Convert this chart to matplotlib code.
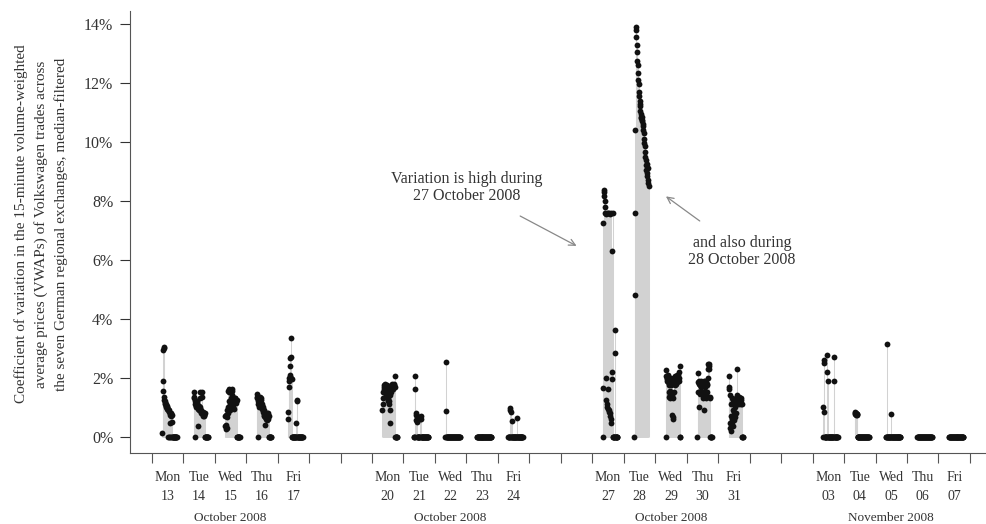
#   Coefficient of variation of the 15-minute VWAPs of Volkswagen across the
#   seven German regional exchanges, 13 October - 07 November 2008.
import numpy as np
import matplotlib
matplotlib.use("Agg")
import matplotlib.pyplot as plt

plt.rcParams['font.family'] = ['Liberation Serif', 'DejaVu Serif']

#   Trading days: offset in calendar days from Mon 13 October 2008.
day_offset = [0, 1, 2, 3, 4, 7, 8, 9, 10, 11, 14, 15, 16, 17, 18, 21, 22, 23, 24, 25]
day_names = ["Mon", "Tue", "Wed", "Thu", "Fri"] * 4
day_numbers = ["13", "14", "15", "16", "17", "20", "21", "22", "23", "24",
               "27", "28", "29", "30", "31", "03", "04", "05", "06", "07"]
month_labels = ["October 2008", "October 2008", "October 2008", "November 2008"]

#   15-minute slots from 08:00 to 19:00 (hours of the day).
slot_hours = [8.00, 8.25, 8.50, 8.75, 9.00, 9.25, 9.50, 9.75, 10.00, 10.25,
              10.50, 10.75, 11.00, 11.25, 11.50, 11.75, 12.00, 12.25, 12.50,
              12.75, 13.00, 13.25, 13.50, 13.75, 14.00, 14.25, 14.50, 14.75,
              15.00, 15.25, 15.50, 15.75, 16.00, 16.25, 16.50, 16.75, 17.00,
              17.25, 17.50, 17.75, 18.00, 18.25, 18.50, 18.75, 19.00]

#   Coefficient of variation (%) per slot, one list per trading day.
oct13 = [0.12, 2.95, 1.90, 1.55, 1.35, 1.25, 3.00, 3.05, 1.20, 1.15, 1.10, 1.05, 1.10, 1.00, 1.05,
         0.95, 1.00, 0.90, 0.00, 0.95, 0.85, 0.00, 0.90, 0.00, 0.75, 0.45, 0.00, 0.80, 0.70, 0.50,
         0.75, 0.00, 0.00, 0.00, 0.00, 0.00, 0.00, 0.00, 0.00, 0.00, 0.00, 0.00, 0.00, 0.00, 0.00]
oct14 = [1.50, 1.35, 1.30, 1.20, 0.00, 1.10, 1.05, 1.00, 1.20, 1.15, 1.00, 1.20, 0.95, 1.00, 0.35,
         1.05, 0.90, 0.95, 1.30, 1.50, 1.00, 0.85, 0.90, 0.80, 1.50, 1.35, 0.80, 0.75, 0.85, 0.70,
         0.75, 0.80, 0.75, 0.70, 0.80, 0.00, 0.00, 0.00, 0.00, 0.00, 0.00, 0.00, 0.00, 0.00, 0.00]
oct15 = [0.70, 0.35, 0.25, 0.75, 0.40, 0.65, 0.90, 0.30, 0.80, 1.00, 1.55, 1.60, 1.50, 1.20, 1.00,
         0.90, 1.10, 1.30, 1.20, 1.05, 1.60, 1.55, 1.40, 1.25, 1.10, 1.00, 0.95, 1.15, 1.20, 1.30,
         1.25, 1.30, 1.20, 1.15, 1.20, 1.25, 0.00, 0.00, 0.00, 0.00, 0.00, 0.00, 0.00, 0.00, 0.00]
oct16 = [1.45, 1.35, 1.30, 1.20, 1.10, 0.00, 1.00, 1.15, 1.25, 1.20, 1.30, 1.35, 1.25, 1.30, 1.15,
         1.05, 1.10, 0.95, 0.90, 1.00, 0.85, 0.90, 0.75, 0.80, 0.70, 0.65, 0.75, 0.40, 0.60, 0.70,
         0.65, 0.55, 0.80, 0.70, 0.60, 0.75, 0.80, 0.70, 0.00, 0.00, 0.00, 0.00, 0.00, 0.00, 0.00]
oct17 = [0.85, 0.60, 1.70, 1.90, 2.00, 2.10, 2.40, 2.65, 3.35, 2.70, 2.00, 1.95, 0.00, 0.00, 0.00,
         0.00, 0.00, 0.00, 0.00, 0.00, 0.00, 0.00, 0.00, 0.00, 0.00, 0.45, 1.25, 1.20, 0.00, 0.00,
         0.00, 0.00, 0.00, 0.00, 0.00, 0.00, 0.00, 0.00, 0.00, 0.00, 0.00, 0.00, 0.00, 0.00, 0.00]
oct20 = [0.90, 1.10, 1.30, 1.50, 1.60, 1.75, 1.70, 1.80, 1.60, 1.50, 1.55, 1.40, 1.60, 1.75, 1.50,
         1.35, 1.25, 1.20, 1.30, 1.40, 1.20, 1.10, 0.90, 0.45, 1.40, 1.50, 1.60, 1.70, 1.75, 1.70,
         1.80, 1.60, 1.70, 1.75, 1.80, 1.70, 1.75, 1.70, 2.05, 0.00, 0.00, 0.00, 0.00, 0.00, 0.00]
oct21 = [0.00, 0.00, 0.00, 2.07, 1.60, 0.80, 0.75, 0.55, 0.70, 0.50, 0.00, 0.00, 0.00, 0.00, 0.00,
         0.00, 0.00, 0.00, 0.65, 0.60, 0.70, 0.60, 0.00, 0.00, 0.00, 0.00, 0.00, 0.00, 0.00, 0.00,
         0.00, 0.00, 0.00, 0.00, 0.00, 0.00, 0.00, 0.00, 0.00, 0.00, 0.00, 0.00, 0.00, 0.00, 0.00]
oct22 = [0.00, 0.00, 2.52, 0.86, 0.00, 0.00, 0.00, 0.00, 0.00, 0.00, 0.00, 0.00, 0.00, 0.00, 0.00,
         0.00, 0.00, 0.00, 0.00, 0.00, 0.00, 0.00, 0.00, 0.00, 0.00, 0.00, 0.00, 0.00, 0.00, 0.00,
         0.00, 0.00, 0.00, 0.00, 0.00, 0.00, 0.00, 0.00, 0.00, 0.00, 0.00, 0.00, 0.00, 0.00, 0.00]
oct23 = [0.0] * 45   # no variation at all on this day
oct24 = [0.00, 0.00, 0.00, 0.00, 0.00, 0.96, 0.90, 0.85, 0.00, 0.00, 0.52, 0.00, 0.00, 0.00, 0.00,
         0.00, 0.00, 0.00, 0.00, 0.00, 0.00, 0.00, 0.00, 0.00, 0.00, 0.63, 0.00, 0.00, 0.00, 0.00,
         0.00, 0.00, 0.00, 0.00, 0.00, 0.00, 0.00, 0.00, 0.00, 0.00, 0.00, 0.00, 0.00, 0.00, 0.00]
oct27 = [0.00, 1.65, 7.25, 8.37, 8.30, 8.15, 8.00, 7.80, 7.60, 2.00, 7.55, 1.25, 7.60, 1.10, 1.00,
         7.60, 1.60, 0.95, 0.90, 7.60, 0.85, 0.80, 0.70, 7.55, 0.60, 0.45, 7.60, 2.20, 6.30, 1.95,
         7.60, 0.00, 0.00, 0.00, 0.00, 0.00, 0.00, 3.60, 2.85, 0.00, 0.00, 0.00, 0.00, 0.00, 0.00]
oct28 = [0.00, 4.80, 7.60, 10.40, 13.90, 13.80, 13.55, 13.30, 13.05, 12.75, 12.60, 12.35, 12.10, 11.95, 11.70,
         11.55, 11.40, 11.30, 11.20, 11.05, 10.95, 10.85, 10.80, 10.75, 10.85, 10.70, 10.60, 10.55, 10.40, 10.30,
         10.10, 9.95, 9.85, 9.65, 9.50, 9.40, 9.20, 9.05, 9.25, 8.95, 8.85, 9.10, 8.70, 8.60, 8.50]
oct29 = [0.00, 2.25, 2.05, 1.95, 2.00, 1.90, 2.10, 1.85, 2.00, 1.75, 1.50, 1.35, 1.40, 1.30, 1.55,
         1.75, 1.95, 2.00, 1.80, 1.40, 0.75, 0.65, 0.60, 1.30, 1.50, 1.85, 1.90, 2.05, 1.95, 1.75,
         1.80, 2.00, 1.90, 2.00, 1.85, 2.10, 2.00, 1.95, 2.10, 2.00, 1.90, 2.20, 2.40, 0.00, 0.00]
oct30 = [0.00, 2.15, 1.50, 1.85, 1.00, 1.90, 1.50, 1.80, 1.75, 1.45, 1.50, 1.90, 1.80, 1.70, 1.50,
         1.45, 1.85, 1.80, 1.30, 1.50, 1.90, 1.80, 0.90, 1.50, 1.70, 1.90, 1.85, 1.30, 1.40, 1.50,
         1.75, 1.80, 2.00, 2.30, 2.45, 2.40, 2.30, 2.45, 1.35, 1.30, 0.00, 0.00, 0.00, 0.00, 0.00]
oct31 = [2.05, 1.70, 1.60, 0.45, 1.40, 0.30, 0.70, 0.20, 1.10, 0.50, 1.30, 0.60, 0.90, 0.35, 1.25,
         0.55, 1.20, 0.85, 1.00, 0.65, 1.15, 1.30, 1.25, 0.80, 1.10, 1.40, 2.30, 1.30, 1.20, 1.35,
         1.25, 1.10, 1.20, 1.35, 1.30, 1.25, 1.20, 1.10, 1.30, 1.25, 1.10, 0.00, 0.00, 0.00, 0.00]
nov03 = [0.00, 1.00, 0.82, 2.50, 2.60, 0.00, 0.00, 0.00, 0.00, 0.00, 0.00, 2.20, 0.00, 2.78, 1.87,
         0.00, 0.00, 0.00, 0.00, 0.00, 0.00, 0.00, 0.00, 0.00, 0.00, 0.00, 0.00, 0.00, 0.00, 0.00,
         0.00, 0.00, 0.00, 2.70, 1.87, 0.00, 0.00, 0.00, 0.00, 0.00, 0.00, 0.00, 0.00, 0.00, 0.00]
nov04 = [0.82, 0.78, 0.80, 0.75, 0.78, 0.80, 0.76, 0.78, 0.74, 0.00, 0.00, 0.00, 0.00, 0.00, 0.00,
         0.00, 0.00, 0.00, 0.00, 0.00, 0.00, 0.00, 0.00, 0.00, 0.00, 0.00, 0.00, 0.00, 0.00, 0.00,
         0.00, 0.00, 0.00, 0.00, 0.00, 0.00, 0.00, 0.00, 0.00, 0.00, 0.00, 0.00, 0.00, 0.00, 0.00]
nov05 = [0.00, 0.00, 0.00, 0.00, 3.15, 0.00, 0.00, 0.00, 0.00, 0.00, 0.00, 0.00, 0.00, 0.00, 0.78,
         0.00, 0.00, 0.00, 0.00, 0.00, 0.00, 0.00, 0.00, 0.00, 0.00, 0.00, 0.00, 0.00, 0.00, 0.00,
         0.00, 0.00, 0.00, 0.00, 0.00, 0.00, 0.00, 0.00, 0.00, 0.00, 0.00, 0.00, 0.00, 0.00, 0.00]
nov06 = [0.0] * 45   # no variation at all on this day
nov07 = [0.0] * 45   # no variation at all on this day

cv_days = [oct13, oct14, oct15, oct16, oct17, oct20, oct21, oct22, oct23, oct24,
           oct27, oct28, oct29, oct30, oct31, nov03, nov04, nov05, nov06, nov07]

#   Figure with the plot region placed as in the original.
fig = plt.figure(figsize=(9.86, 5.24), dpi=100)
ax = fig.add_axes([130 / 986, 71 / 524, 856 / 986, 442.5 / 524])

for d, vals in zip(day_offset, cv_days):
    x = d + np.array(slot_hours) / 24.0
    y = np.array(vals)
    #   Vertical lines from zero (type "h" in R) and the points on top.
    ax.vlines(x, 0, y, color="#d2d2d2", linewidth=0.75, zorder=1)
    ax.plot(x, y, "o", color="#111111", markersize=4.2, markeredgewidth=0, zorder=2)

ax.set_xlim(-0.69, 26.51)
ax.set_ylim(-0.556, 14.456)

#   Y axis in percent.
ax.set_yticks(np.arange(0, 15, 2))
ax.set_yticklabels([str(v) + "%" for v in range(0, 15, 2)])
ax.tick_params(axis="y", length=7, width=0.8, pad=5, labelsize=11.5,
               colors="#333333")

#   X axis: a tick at every day boundary, labels placed under the weekdays.
ax.set_xticks(np.arange(0, 27, 1))
ax.set_xticklabels([])
ax.tick_params(axis="x", length=7, width=0.8, colors="#555555")

for side in ["top", "right"]:
    ax.spines[side].set_visible(False)
for side in ["left", "bottom"]:
    ax.spines[side].set_color("#555555")
    ax.spines[side].set_linewidth(0.8)

xt = ax.get_xaxis_transform()
for d, nm, num in zip(day_offset, day_names, day_numbers):
    ax.text(d + 0.5, -0.056, nm, transform=xt, ha="center", va="center",
            fontsize=10, color="#333333", clip_on=False)
    ax.text(d + 0.5, -0.099, num, transform=xt, ha="center", va="center",
            fontsize=10, color="#333333", clip_on=False)
for w, lab in enumerate(month_labels):
    ax.text(day_offset[w * 5 + 2] + 0.5, -0.147, lab, transform=xt,
            ha="center", va="center", fontsize=9.5, color="#333333",
            clip_on=False)

#   Y axis title (three lines).
fig.text(41 / 986, 1 - 224 / 524,
         "Coefficient of variation in the 15-minute volume-weighted\n"
         "average prices (VWAPs) of Volkswagen trades across\n"
         "the seven German regional exchanges, median-filtered",
         rotation=90, ha="center", va="center", multialignment="center",
         fontsize=11, color="#333333", linespacing=1.6)

#   Annotations.
ax.annotate("Variation is high during\n27 October 2008",
            xy=(13.5, 6.47), xytext=(10.0, 8.45), ha="center", va="center",
            fontsize=11.5, color="#333333", linespacing=1.1,
            arrowprops=dict(arrowstyle="->", color="#888888", lw=0.9,
                            shrinkA=14, shrinkB=0))
ax.annotate("and also during\n28 October 2008",
            xy=(16.34, 8.15), xytext=(18.76, 6.27), ha="center", va="center",
            fontsize=11.5, color="#333333", linespacing=1.1,
            arrowprops=dict(arrowstyle="->", color="#888888", lw=0.9,
                            shrinkA=14, shrinkB=0))

fig.savefig("out.png", dpi=100)
